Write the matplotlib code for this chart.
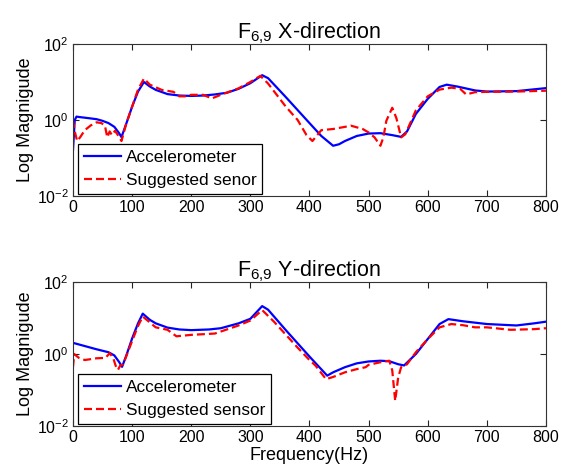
import matplotlib
matplotlib.use("Agg")
import matplotlib.pyplot as plt
from matplotlib.ticker import FixedLocator, NullLocator

plt.rcParams['font.family'] = ['Liberation Sans', 'DejaVu Sans']
plt.rcParams['mathtext.fontset'] = 'custom'
plt.rcParams['mathtext.rm'] = 'Liberation Sans'
plt.rcParams['mathtext.it'] = 'Liberation Sans:italic'
plt.rcParams['mathtext.bf'] = 'Liberation Sans:bold'

# ---------------- data ----------------
x_acc_f = [0, 3, 6, 10, 20, 30, 40, 50, 60, 70, 78, 82, 90, 100, 110, 120, 130, 140, 160, 180,
           200, 220, 240, 260, 280, 300, 320, 330, 360, 400, 420, 440, 450, 460, 480, 500, 520,
           540, 555, 565, 580, 600, 620, 632, 650, 680, 700, 750, 800]
x_acc_m = [0.16, 1.0, 1.23, 1.2, 1.15, 1.1, 1.05, 0.95, 0.83, 0.66, 0.45, 0.355, 0.79, 2.24, 5.6,
           10.0, 7.6, 6.2, 4.8, 4.4, 4.3, 4.4, 4.7, 5.2, 6.6, 9.3, 15.1, 12.6, 4.0, 0.83, 0.38,
           0.21, 0.23, 0.28, 0.38, 0.44, 0.45, 0.40, 0.36, 0.50, 1.45, 3.6, 7.4, 8.5, 7.6, 6.0,
           5.6, 5.75, 6.9]

x_sug_f = [0, 3, 7, 12, 20, 30, 40, 48, 54, 58, 62, 66, 71, 77, 82, 90, 100, 110, 120, 130, 150,
           170, 180, 190, 200, 220, 235, 250, 280, 300, 317, 330, 360, 380, 395, 405, 420, 440,
           460, 470, 490, 500, 510, 520, 525, 530, 540, 547, 555, 562, 580, 600, 620, 640, 655,
           665, 680, 700, 750, 800]
x_sug_m = [1.0, 0.5, 0.28, 0.35, 0.54, 0.72, 0.87, 0.83, 0.71, 0.35, 0.5, 0.4, 0.52, 0.38, 0.28,
           0.79, 2.24, 6.3, 12.3, 8.5, 6.2, 5.5, 4.2, 4.2, 4.6, 4.6, 3.7, 4.6, 6.8, 10.0, 14.5,
           9.1, 2.24, 1.0, 0.4, 0.28, 0.54, 0.58, 0.66, 0.71, 0.58, 0.47, 0.35, 0.21, 0.35, 0.95,
           2.1, 1.12, 0.35, 0.42, 1.8, 4.2, 6.3, 7.1, 6.6, 4.7, 5.4, 5.5, 5.6, 5.9]

y_acc_f = [0, 2, 20, 40, 60, 70, 78, 83, 90, 100, 110, 118, 130, 140, 160, 180, 200, 230, 250,
           280, 300, 320, 330, 360, 400, 430, 440, 460, 480, 500, 520, 535, 550, 560, 580, 600,
           620, 635, 660, 700, 750, 780, 800]
y_acc_m = [2.0, 2.0, 1.66, 1.35, 1.12, 0.91, 0.6, 0.44, 0.89, 2.7, 7.1, 13.2, 8.9, 7.1, 5.4, 4.8,
           4.6, 4.8, 5.2, 7.1, 9.5, 21.4, 17.0, 4.6, 0.85, 0.25, 0.31, 0.43, 0.55, 0.62, 0.65,
           0.63, 0.52, 0.48, 1.0, 2.6, 6.8, 9.3, 8.1, 6.8, 6.2, 7.1, 7.9]

y_sug_f = [0, 2, 10, 20, 40, 55, 62, 68, 72, 76, 80, 85, 100, 110, 118, 140, 160, 175, 200, 240,
           280, 300, 320, 340, 380, 400, 410, 428, 440, 460, 480, 495, 500, 520, 535, 540, 545,
           550, 555, 565, 580, 600, 620, 640, 660, 680, 700, 740, 780, 800]
y_sug_m = [0.43, 1.0, 0.78, 0.68, 0.76, 0.78, 1.05, 0.78, 0.48, 0.36, 0.48, 0.52, 2.3, 6.0, 11.0,
           5.5, 4.7, 3.1, 3.4, 3.7, 6.2, 8.5, 16.6, 7.9, 1.5, 0.68, 0.48, 0.2, 0.23, 0.31, 0.38,
           0.43, 0.5, 0.59, 0.65, 0.35, 0.05, 0.22, 0.43, 0.52, 1.12, 2.6, 5.5, 6.8, 6.3, 5.5,
           5.5, 4.7, 4.9, 5.2]

x_ticks = [0, 100, 200, 300, 400, 500, 600, 700, 800]
y_ticks = [1e-2, 1e0, 1e2]

panels = [
    dict(title=r'$\mathrm{F}_{\text{6,9}}$ X-direction', f1=x_acc_f, m1=x_acc_m, f2=x_sug_f, m2=x_sug_m,
         labels=['Accelerometer', 'Suggested senor'], rect=[0.1285, 0.5856, 0.8327, 0.3214],
         xlabel=None),
    dict(title=r'$\mathrm{F}_{\text{6,9}}$ Y-direction', f1=y_acc_f, m1=y_acc_m, f2=y_sug_f, m2=y_sug_m,
         labels=['Accelerometer', 'Suggested sensor'], rect=[0.1285, 0.0994, 0.8327, 0.3044],
         xlabel='Frequency(Hz)'),
]

fig = plt.figure(figsize=(5.68, 4.73), dpi=100)
for p in panels:
    ax = fig.add_axes(p['rect'])
    ax.plot(p['f1'], p['m1'], color=(0, 0, 1), lw=1.6, label=p['labels'][0])
    ax.plot(p['f2'], p['m2'], color=(1, 0, 0), lw=1.6, dashes=(3.6, 1.8), label=p['labels'][1])
    ax.set_yscale('log')
    ax.set_xlim(0, 800)
    ax.set_ylim(1e-2, 1e2)
    ax.xaxis.set_major_locator(FixedLocator(x_ticks))
    ax.yaxis.set_major_locator(FixedLocator(y_ticks))
    ax.yaxis.set_minor_locator(NullLocator())
    ax.tick_params(direction='in', top=True, right=True, length=4, width=0.8,
                   labelsize=11.5, colors='#222222', labelcolor='black', pad=3)
    for s in ax.spines.values():
        s.set_color('#333333')
        s.set_linewidth(0.8)
    ax.set_title(p['title'], fontsize=15.5, pad=4)
    ax.set_ylabel('Log Magnigude', fontsize=13, labelpad=2)
    if p['xlabel']:
        ax.set_xlabel(p['xlabel'], fontsize=13, labelpad=1)
    leg = ax.legend(loc='lower left', bbox_to_anchor=(0.011, 0.015), borderaxespad=0,
                    fontsize=12.4, handlelength=2.15, handletextpad=0.25, labelspacing=0.45,
                    borderpad=0.35, fancybox=False, framealpha=1, edgecolor='black')
    leg.get_frame().set_linewidth(0.9)

fig.savefig('out.png', dpi=100)
